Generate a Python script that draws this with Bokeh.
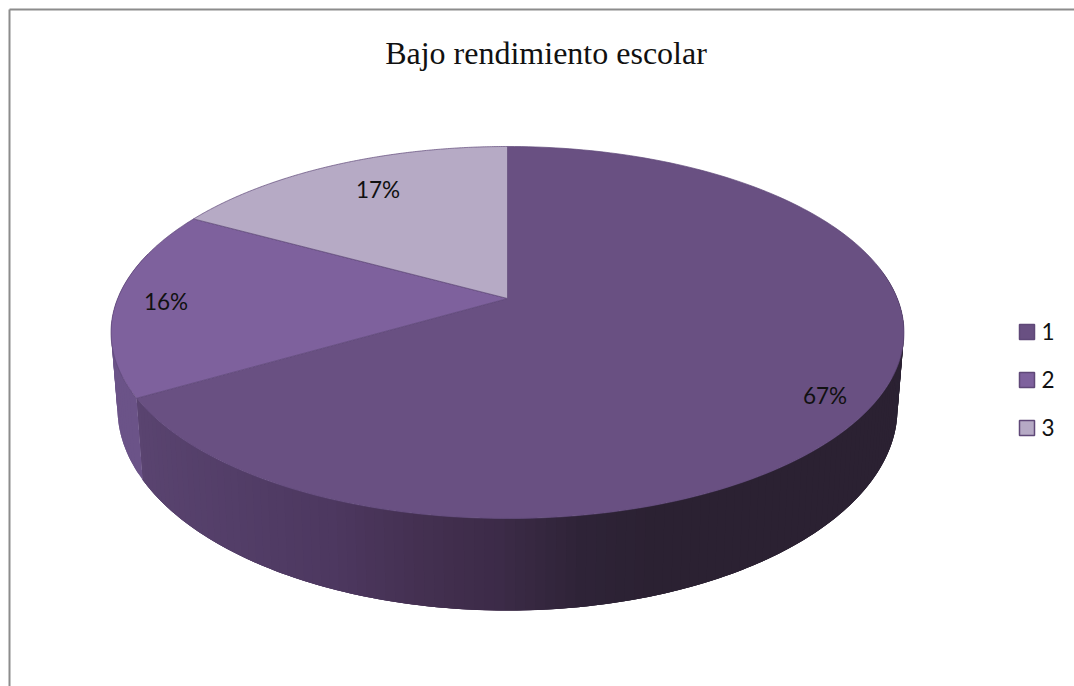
import numpy as np
from bokeh.plotting import figure
from bokeh.models import Range1d, Label
from bokeh.embed import file_html
from bokeh.resources import INLINE

TITLE = "Bajo rendimiento escolar"
categories = ["1", "2", "3"]
shares = [66.6, 16.4, 17.0]
labels = ["67%", "16%", "17%"]
colors = ["#695082", "#7e619d", "#b6aac5"]
wall_side2 = "#6b5388"
# wall shade read left-to-right along the front of the pie
wall_x = [145, 250, 350, 450, 520, 600, 680, 900]
wall_c = [(90, 68, 112), (83, 62, 104), (77, 56, 96), (67, 48, 80), (60, 43, 72), (47, 36, 56), (43, 33, 50), (43, 34, 51)]

W, H = 1074, 686
p = figure(width=W, height=H, output_backend="svg", toolbar_location=None,
           x_range=Range1d(0, W), y_range=Range1d(H, 0),
           min_border=0, outline_line_color=None)
p.axis.visible = False
p.grid.visible = False
p.background_fill_color = "white"

# chart frame
p.line([9, 9], [686, 9], line_color="#8c8c8c", line_width=2)
p.line([9, 1074], [9, 9], line_color="#8c8c8c", line_width=2)

AX, AY, K = 507.0, 298.0, 0.1828
A, B = 389.8, 179.8


def top_pt(t):
    u, v = np.sin(t), np.cos(t)
    w = 1 + K * v
    return AX + A * u / w, AY - B * v / w


def bottom_pt(t):
    x, y = top_pt(t)
    return 507.0 + (x - 507.0) * 390 / 396.5, 408.0 + (y - 332.0) * 202 / 186


def bands(t0, t1, n, overlap):
    ts = np.linspace(t0, t1, n)
    xs, ys, mids = [], [], []
    for i in range(n - 1):
        seg = np.linspace(ts[i], ts[min(i + overlap, n - 1)], 5)
        tx, ty = top_pt(seg)
        bx, by = bottom_pt(seg)
        xs.append(np.r_[tx, bx[::-1]])
        ys.append(np.r_[ty, by[::-1]])
        mids.append(top_pt((ts[i] + ts[i + 1]) / 2)[0])
    return xs, ys, mids


cum = np.cumsum([0] + shares) / sum(shares) * 2 * np.pi

# side wall: each band overlaps the next so that no seams show
xs, ys, mids = bands(np.radians(80), cum[1], 130, 3)
cs = ["#%02x%02x%02x" % tuple(int(np.interp(m, wall_x, [q[k] for q in wall_c])) for k in range(3)) for m in mids]
p.patches(xs[::-1], ys[::-1], fill_color=cs[::-1], line_color=None)

xs, ys, _ = bands(cum[1], np.radians(285), 30, 2)
p.patches(xs[::-1], ys[::-1], fill_color=wall_side2, line_color=None)

# top face
for i in range(3):
    t = np.linspace(cum[i], cum[i + 1], 200)
    x, y = top_pt(t)
    p.patch(np.r_[AX, x], np.r_[AY, y], fill_color=colors[i], line_color="#5f4878", line_width=0.7)

lab_pos = [(824.5, 395), (165.5, 301), (377.5, 188.5)]
for s, (x, y) in zip(labels, lab_pos):
    p.add_layout(Label(x=x, y=y, text=s, text_font="Lato", text_font_size="22.5px",
                       text_align="center", text_baseline="middle", text_color="#111111"))

p.add_layout(Label(x=545.5, y=52, text=TITLE, text_font="Liberation Serif", text_font_size="32px",
                   text_align="center", text_baseline="middle", text_color="#111111"))

for i, c in enumerate(categories):
    y = 331.5 + i * 48
    p.rect([1026.5], [y], width=15, height=15, fill_color=colors[i], line_color="#5f4878", line_width=1.5)
    p.add_layout(Label(x=1041, y=y - 0.5, text=c, text_font="Lato", text_font_size="22.5px",
                       text_align="left", text_baseline="middle", text_color="#111111"))

open("out.html", "w").write(file_html(p, INLINE))
